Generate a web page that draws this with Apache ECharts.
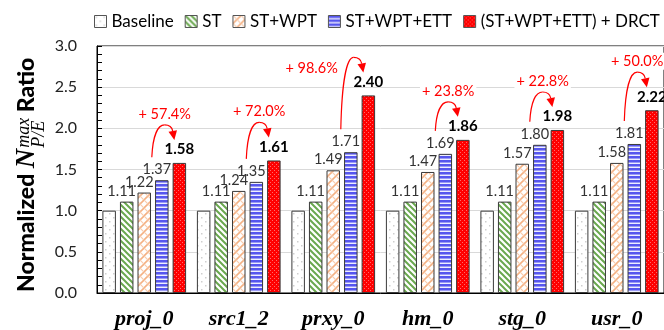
<!DOCTYPE html>
<html><head><meta charset="utf-8">
<script src="https://cdn.jsdelivr.net/npm/echarts@6/dist/echarts.min.js"></script>
<style>html,body{margin:0;padding:0;background:#fff}#c{width:664px;height:330px}</style>
</head><body><div id="c"></div>
<script>
// ---- data ----
const categories = ['proj_0', 'src1_2', 'prxy_0', 'hm_0', 'stg_0', 'usr_0'];
const seriesNames = ['Baseline', 'ST', 'ST+WPT', 'ST+WPT+ETT', '(ST+WPT+ETT) + DRCT'];
const baseline = [1.00, 1.00, 1.00, 1.00, 1.00, 1.00];
const st = [1.11, 1.11, 1.11, 1.11, 1.11, 1.11];
const stWpt = [1.22, 1.24, 1.49, 1.47, 1.57, 1.58];
const stWptEtt = [1.37, 1.35, 1.71, 1.69, 1.80, 1.81];
const drct = [1.58, 1.61, 2.40, 1.86, 1.98, 2.22];
const gains = ['+ 57.4%', '+ 72.0%', '+ 98.6%', '+ 23.8%', '+ 22.8%', '+ 50.0%'];
const yMin = 0, yMax = 3, yStep = 0.5;

// ---- patterns ----
function pat(w, h, draw) {
  const c = document.createElement('canvas');
  c.width = w; c.height = h;
  const ctx = c.getContext('2d');
  draw(ctx, w, h);
  return { image: c, repeat: 'repeat' };
}
const pBase = pat(8, 8, (x) => {
  x.fillStyle = '#fff'; x.fillRect(0, 0, 8, 8);
  x.fillStyle = '#cfcfcf'; x.fillRect(1, 1, 1.5, 1.5); x.fillRect(5, 5, 1.5, 1.5);
});
const pST = pat(6, 6, (x) => {
  x.fillStyle = '#fff'; x.fillRect(0, 0, 6, 6);
  x.strokeStyle = '#6aa84f'; x.lineWidth = 2;
  x.beginPath();
  x.moveTo(-1, -1); x.lineTo(7, 7);
  x.moveTo(-4, 2); x.lineTo(4, 10);
  x.moveTo(2, -4); x.lineTo(10, 4);
  x.stroke();
});
const pWPT = pat(8, 8, (x) => {
  x.fillStyle = '#fff'; x.fillRect(0, 0, 8, 8);
  x.strokeStyle = '#f4b183'; x.lineWidth = 1.6;
  x.beginPath();
  x.moveTo(-1, 9); x.lineTo(9, -1);
  x.stroke();
  x.strokeStyle = '#f8cbad'; x.lineWidth = 1.2;
  x.beginPath();
  x.moveTo(-1, -1); x.lineTo(9, 9);
  x.stroke();
});
const pETT = pat(4, 4, (x) => {
  x.fillStyle = '#5656ee'; x.fillRect(0, 0, 4, 2);
  x.fillStyle = '#9a9af6'; x.fillRect(0, 2, 4, 1);
  x.fillStyle = '#eeeeff'; x.fillRect(0, 3, 4, 1);
});
const pDRCT = pat(4, 4, (x) => {
  x.fillStyle = '#ff0000'; x.fillRect(0, 0, 4, 4);
  x.fillStyle = '#ff6a6a'; x.fillRect(0, 0, 1, 1); x.fillRect(2, 2, 1, 1);
});

const FONT = 'Lato';
const valFmt = (p) => p.value.toFixed(2);

function bar(name, data, color, label) {
  return {
    name, type: 'bar', data,
    barWidth: 13.5, barGap: '30%',
    itemStyle: { color, borderColor: '#3a3a3a', borderWidth: 1 },
    label: label,
    emphasis: { disabled: true },
    animation: false
  };
}
const normLabel = { show: true, position: 'top', distance: 3, offset: [-5, 0], formatter: valFmt,
  fontFamily: FONT, fontSize: 14.5, color: '#333' };
const boldLabel = { show: true, position: 'top', distance: 6, formatter: valFmt,
  fontFamily: FONT, fontSize: 15, fontWeight: 'bold', color: '#000' };

const chart = echarts.init(document.getElementById('c'), null, { renderer: 'canvas' });
chart.setOption({
  animation: false,
  backgroundColor: '#fff',
  legend: {
    top: 8, left: 89, width: 660, itemWidth: 12, itemHeight: 12, itemGap: 11,
    icon: 'rect',
    itemStyle: { borderColor: '#555', borderWidth: 1 },
    textStyle: { fontFamily: FONT, fontSize: 17, color: '#000' },
    data: seriesNames
  },
  grid: { left: 97, width: 572, top: 46, bottom: 37, show: true, borderColor: '#000', borderWidth: 1 },
  xAxis: {
    type: 'category', data: categories,
    axisLine: { lineStyle: { color: '#000', width: 1 } },
    axisTick: { show: false },
    axisLabel: { fontFamily: 'Liberation Serif', fontStyle: 'italic', fontWeight: 'bold', fontSize: 22, color: '#000', margin: 15 }
  },
  yAxis: {
    type: 'value', min: yMin, max: yMax, interval: yStep,
    axisLine: { show: true, lineStyle: { color: '#000', width: 1 } },
    axisTick: { show: true, inside: true, length: 5, lineStyle: { color: '#000' } },
    minorTick: { show: true, splitNumber: 5, length: 5, lineStyle: { color: '#000' } },
    axisLabel: { fontFamily: FONT, fontSize: 16, color: '#222', margin: 20, formatter: (v) => v.toFixed(1) },
    splitLine: { lineStyle: { color: '#d9d9d9', width: 1 } }
  },
  series: [
    bar(seriesNames[0], baseline, pBase, { show: false }),
    bar(seriesNames[1], st, pST, normLabel),
    bar(seriesNames[2], stWpt, pWPT, normLabel),
    bar(seriesNames[3], stWptEtt, pETT, normLabel),
    bar(seriesNames[4], drct, pDRCT, boldLabel)
  ]
});

// ---- annotations computed from bar layouts ----
function barTop(si, i) {
  const l = chart.getModel().getSeriesByIndex(si).getData().getItemLayout(i);
  return { cx: l.x + l.width / 2, top: Math.min(l.y, l.y + l.height) };
}
const gridTop = 46;
const graphics = [];
categories.forEach((c, i) => {
  const e = barTop(3, i), d = barTop(4, i);
  const s = [e.cx - 10, e.top - 23];
  const t = [d.cx - 5, d.top - 23];
  const pk = [s[0] + 0.57 * (t[0] - s[0]), d.top - 38];
  const c1 = [s[0] + 1, s[1] - 0.65 * (s[1] - pk[1])];
  const c2 = [pk[0] - 7, pk[1]];
  const c3 = [pk[0] + 6, pk[1]];
  const c4 = [t[0] - 2, t[1] - 11];
  let dx = t[0] - c4[0], dy = t[1] - c4[1];
  const len = Math.hypot(dx, dy); dx /= len; dy /= len;
  const L = 9, W = 4.3;
  const b = [t[0] - dx * L, t[1] - dy * L];
  const lineStyle = { stroke: '#ff0000', lineWidth: 1.2, fill: null };
  graphics.push({ type: 'bezierCurve', silent: true,
    shape: { x1: s[0], y1: s[1], cpx1: c1[0], cpy1: c1[1], cpx2: c2[0], cpy2: c2[1], x2: pk[0], y2: pk[1] }, style: lineStyle });
  graphics.push({ type: 'bezierCurve', silent: true,
    shape: { x1: pk[0], y1: pk[1], cpx1: c3[0], cpy1: c3[1], cpx2: c4[0], cpy2: c4[1], x2: b[0], y2: b[1] }, style: lineStyle });
  graphics.push({ type: 'polygon', silent: true,
    shape: { points: [t, [b[0] - dy * W, b[1] + dx * W], [b[0] + dy * W, b[1] - dx * W]] },
    style: { fill: '#ff0000' } });
  let tx = pk[0], ty = pk[1] - 11, align = 'center';
  if (ty - 8 < gridTop) { tx = s[0] - 1; ty = pk[1] + 11; align = 'right'; }
  graphics.push({ type: 'text', x: tx, y: ty, silent: true, z: 10,
    style: { text: gains[i], fill: '#ff0000', fontFamily: FONT, fontSize: 14.5, align: align, verticalAlign: 'middle',
      textAlign: align, textVerticalAlign: 'middle', backgroundColor: '#fff', padding: [1, 2] } });
});

// ---- y axis title ----
const mctx = document.createElement('canvas').getContext('2d');
function mw(font, txt) { mctx.font = font; return mctx.measureText(txt).width; }
const T_MAIN = { fontFamily: FONT, fontWeight: 900, fontStyle: 'normal', fontSize: 23 };
const T_N = { fontFamily: 'Liberation Serif', fontWeight: 'bold', fontStyle: 'italic', fontSize: 27 };
const T_S = { fontFamily: 'Liberation Serif', fontWeight: 'normal', fontStyle: 'italic', fontSize: 18 };
const css = (f) => `${f.fontStyle} ${f.fontWeight} ${f.fontSize}px "${f.fontFamily}"`;
const wNorm = mw(css(T_MAIN), 'Normalized'), wSp = mw(css(T_MAIN), ' ');
const wN = mw(css(T_N), 'N'), wSup = mw(css(T_S), 'max'), wSub = mw(css(T_S), 'P/E');
const xN = wNorm + wSp;
const xS = xN + wN + 1;
const xR = xS + Math.max(wSup, wSub) + wSp;
function tt(text, x, y, f) {
  return { type: 'text', x, y, style: Object.assign({ text, fill: '#000', align: 'left', verticalAlign: 'middle',
    textAlign: 'left', textVerticalAlign: 'middle' }, f) };
}
graphics.push({
  type: 'group', x: 36, y: 292, rotation: Math.PI / 2, silent: true,
  children: [
    tt('Normalized', 0, -9, T_MAIN),
    tt('N', xN, -9, T_N),
    tt('max', xS, -12, T_S),
    tt('P/E', xS, 3, T_S),
    tt('Ratio', xR, -9, T_MAIN)
  ]
});
chart.setOption({ graphic: graphics });
</script>
</body></html>
